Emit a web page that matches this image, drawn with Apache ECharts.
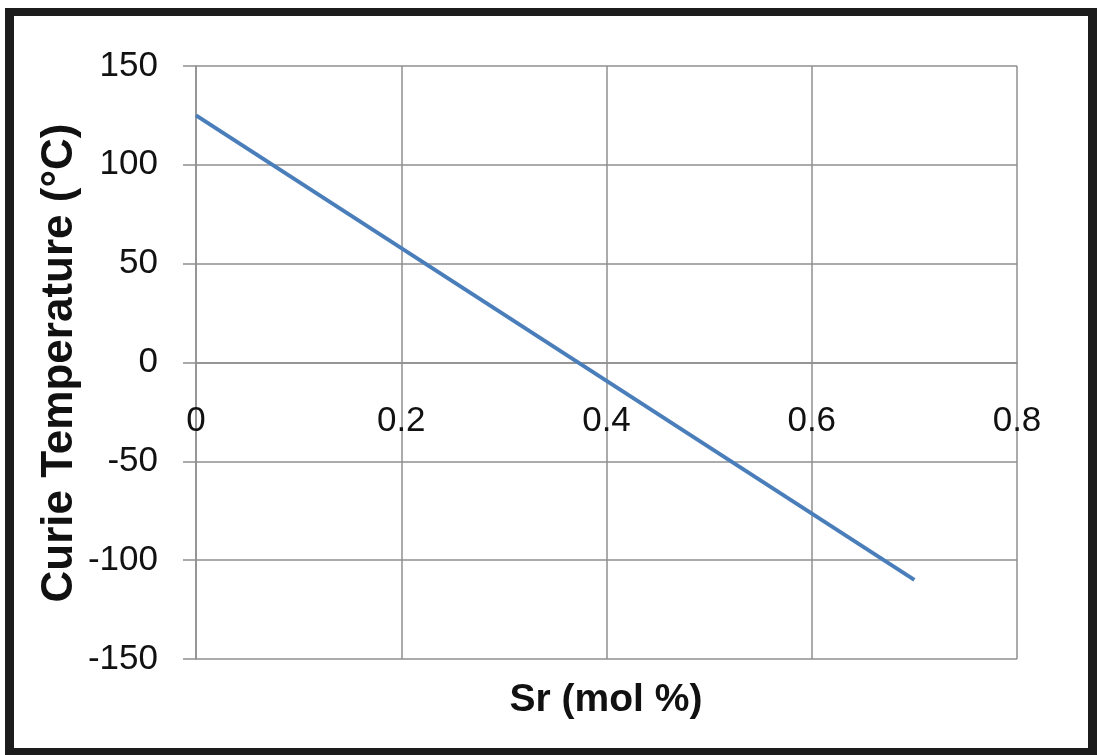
<!DOCTYPE html>
<html>
<head>
<meta charset="utf-8">
<script src="https://cdn.jsdelivr.net/npm/echarts@6/dist/echarts.min.js"></script>
<style>
html,body{margin:0;padding:0;background:#fff;}
#c{width:1097px;height:755px;}
</style>
</head>
<body>
<div id="c"></div>
<script>
// Data
var srMol = [0, 0.7];
var curieTemp = [125, -110];
var xTicks = [0, 0.2, 0.4, 0.6, 0.8];
var yTicks = [-150, -100, -50, 0, 50, 100, 150];
var xTitle = 'Sr (mol %)';
var yTitle = 'Curie Temperature (°C)';

var FONT = "'Liberation Sans', Arial, sans-serif";
var chart = echarts.init(document.getElementById('c'), null, {renderer: 'canvas'});
var pts = srMol.map(function (x, i) { return [x, curieTemp[i]]; });
var gridColor = '#8f8f8f';

var gridTop = 66, gridBottom = 96, H = 755;
var plotH = H - gridTop - gridBottom;
var yMin = yTicks[0], yMax = yTicks[yTicks.length - 1];
// place the x axis (line + labels) at y = 0, as in the reference
var xAxisOffset = -plotH * (0 - yMin) / (yMax - yMin);

chart.setOption({
  animation: false,
  backgroundColor: '#ffffff',
  grid: {left: 196, right: 80, top: gridTop, bottom: gridBottom, containLabel: false},
  xAxis: {
    type: 'value', min: xTicks[0], max: xTicks[xTicks.length - 1], interval: 0.2,
    offset: xAxisOffset,
    axisLine: {show: true, onZero: false, lineStyle: {color: gridColor, width: 1.5}},
    axisTick: {show: false},
    axisLabel: {color: '#111', fontFamily: FONT, fontSize: 35, margin: 41,
      formatter: function (v) { return String(Math.round(v * 10) / 10); }},
    splitLine: {show: true, lineStyle: {color: gridColor, width: 1.5}}
  },
  yAxis: {
    type: 'value', min: yMin, max: yMax, interval: 50,
    axisLine: {show: true, onZero: false, lineStyle: {color: gridColor, width: 1.5}},
    axisTick: {show: true, length: 13, lineStyle: {color: gridColor, width: 1.5}},
    axisLabel: {color: '#111', fontFamily: FONT, fontSize: 35, margin: 38},
    splitLine: {show: true, lineStyle: {color: gridColor, width: 1.5}}
  },
  series: [{
    type: 'line', data: pts, showSymbol: false, symbol: 'none',
    lineStyle: {color: '#4a7ebb', width: 4}
  }],
  graphic: [
    {type: 'rect', shape: {x: 5, y: 8, width: 9, height: 747}, style: {fill: '#1c1c1c'}},
    {type: 'rect', shape: {x: 5, y: 8, width: 1092, height: 8}, style: {fill: '#1c1c1c'}},
    {type: 'rect', shape: {x: 1088, y: 8, width: 9, height: 747}, style: {fill: '#1c1c1c'}},
    {type: 'rect', shape: {x: 5, y: 748, width: 1092, height: 7}, style: {fill: '#1c1c1c'}},
    {type: 'text', x: 606, y: 700, style: {text: xTitle, font: "bold 39px " + FONT, fill: '#111', textAlign: 'center', textVerticalAlign: 'middle'}},
    {type: 'text', x: 60, y: 363, rotation: Math.PI / 2, style: {text: yTitle, font: "bold 44px " + FONT, fill: '#111', textAlign: 'center', textVerticalAlign: 'middle'}}
  ]
});
</script>
</body>
</html>
